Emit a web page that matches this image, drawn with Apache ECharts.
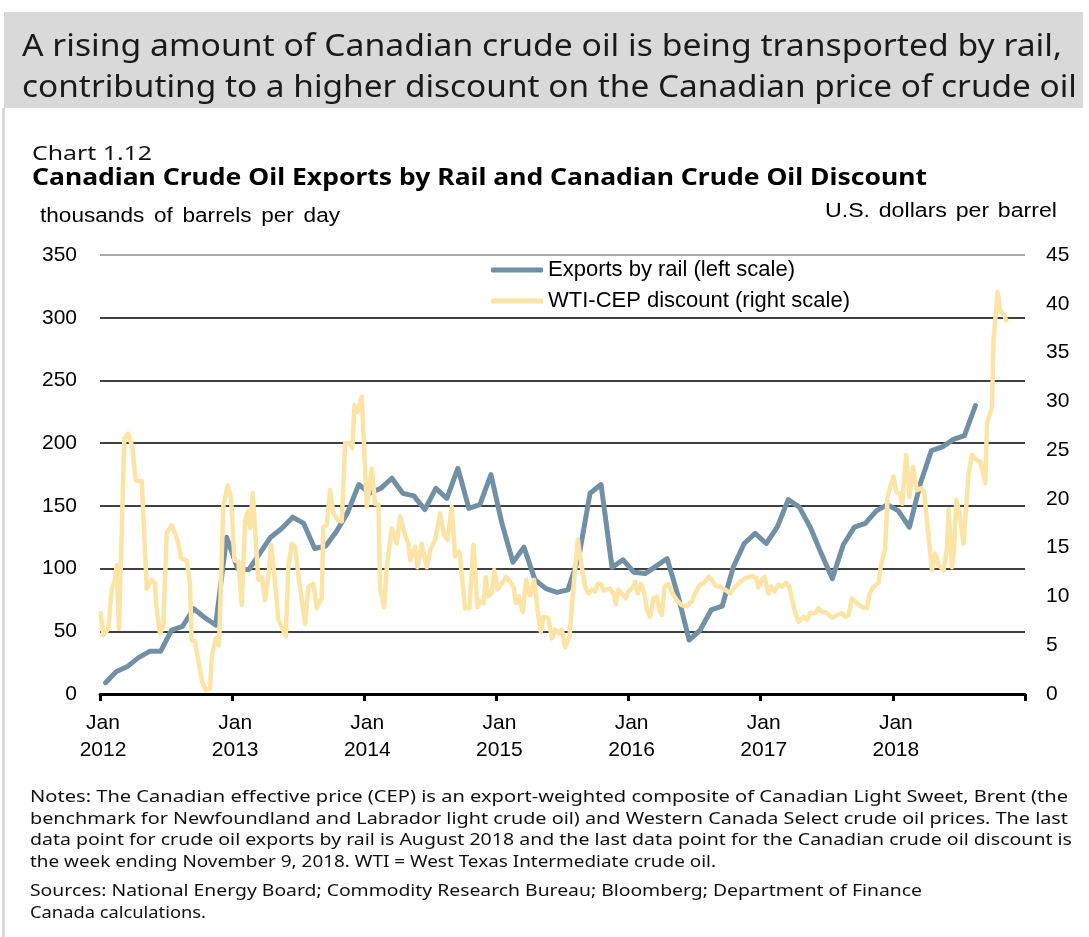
<!DOCTYPE html>
<html>
<head>
<meta charset="utf-8">
<script src="https://cdn.jsdelivr.net/npm/echarts@6/dist/echarts.min.js"></script>
<style>
  html, body { margin: 0; padding: 0; background: #fff; }
  #page { position: relative; width: 1089px; height: 937px; overflow: hidden; }
  #header { position: absolute; left: 4px; top: 12px; width: 1079px; height: 96px; background: #d9d9d9; }
  #leftBorder { position: absolute; left: 2px; top: 108px; width: 3px; height: 829px; background: #d9d9d9; }
  #chart { position: absolute; left: 0; top: 0; width: 1089px; height: 937px; z-index: 1; }
  .txt { position: absolute; white-space: nowrap; line-height: 1; transform-origin: 0 50%; z-index: 2; }
</style>
</head>
<body>
<div id="page">
  <div id="header"></div>
  <div id="leftBorder"></div>
  <div id="chart"></div>
</div>
<script>
  // Canadian crude oil exports by rail, thousands of barrels per day, monthly Jan 2012 - Aug 2018
  const exportsStart = 2012
  const exportsByRail = [
    9, 18, 22, 29, 34, 34, 51, 54, 68, 61, 55, 125,
    100, 99, 112, 125, 132, 141, 136, 116, 118, 130, 145, 167,
    160, 164, 172, 160, 158, 147, 164, 156, 180, 148, 151, 175,
    136, 105, 117, 91, 84, 81, 83, 110, 160, 167, 101, 107,
    97, 96, 102, 108, 78, 43, 51, 67, 70, 101, 120, 128,
    120, 133, 155, 149, 133, 112, 92, 119, 133, 136, 146, 151,
    146, 133, 168, 194, 197, 203, 206, 230
  ]

  // WTI-CEP discount, US$ per barrel, weekly (turning points, position in decimal years)
  const discountYear = [
    2012.005, 2012.025, 2012.063, 2012.089, 2012.114, 2012.126, 2012.144, 2012.184, 2012.214, 2012.245,
    2012.270, 2012.316, 2012.354, 2012.391, 2012.416, 2012.429, 2012.454, 2012.479, 2012.505, 2012.543,
    2012.568, 2012.593, 2012.613, 2012.656, 2012.681, 2012.694, 2012.719, 2012.770, 2012.800, 2012.833,
    2012.846, 2012.876, 2012.901, 2012.933, 2012.967, 2012.992, 2013.017, 2013.047, 2013.073, 2013.098,
    2013.118, 2013.136, 2013.156, 2013.198, 2013.224, 2013.249, 2013.274, 2013.294, 2013.312, 2013.350,
    2013.406, 2013.425, 2013.451, 2013.476, 2013.506, 2013.531, 2013.552, 2013.577, 2013.615, 2013.640,
    2013.678, 2013.690, 2013.716, 2013.741, 2013.766, 2013.804, 2013.830, 2013.855, 2013.892, 2013.910,
    2013.925, 2013.948, 2013.981, 2014.019, 2014.057, 2014.082, 2014.107, 2014.120, 2014.150, 2014.170,
    2014.208, 2014.246, 2014.271, 2014.309, 2014.334, 2014.347, 2014.385, 2014.402, 2014.435, 2014.473,
    2014.503, 2014.536, 2014.574, 2014.604, 2014.629, 2014.662, 2014.687, 2014.720, 2014.763, 2014.796,
    2014.826, 2014.856, 2014.877, 2014.902, 2014.920, 2014.939, 2014.965, 2014.983, 2015.008, 2015.041,
    2015.073, 2015.104, 2015.129, 2015.147, 2015.167, 2015.200, 2015.225, 2015.255, 2015.285, 2015.318,
    2015.336, 2015.356, 2015.394, 2015.419, 2015.444, 2015.477, 2015.495, 2015.520, 2015.553, 2015.583,
    2015.616, 2015.646, 2015.671, 2015.696, 2015.722, 2015.747, 2015.767, 2015.793, 2015.810, 2015.836,
    2015.861, 2015.886, 2015.904, 2015.924, 2015.954, 2015.980, 2015.999, 2016.025, 2016.050, 2016.070,
    2016.095, 2016.120, 2016.139, 2016.164, 2016.189, 2016.214, 2016.232, 2016.252, 2016.272, 2016.302,
    2016.332, 2016.366, 2016.403, 2016.441, 2016.479, 2016.509, 2016.542, 2016.567, 2016.605, 2016.631,
    2016.656, 2016.693, 2016.731, 2016.769, 2016.807, 2016.845, 2016.883, 2016.913, 2016.938, 2016.964,
    2016.983, 2017.009, 2017.029, 2017.059, 2017.079, 2017.104, 2017.135, 2017.160, 2017.191, 2017.216,
    2017.236, 2017.261, 2017.286, 2017.324, 2017.350, 2017.375, 2017.413, 2017.438, 2017.463, 2017.501,
    2017.539, 2017.577, 2017.615, 2017.640, 2017.665, 2017.690, 2017.728, 2017.766, 2017.804, 2017.824,
    2017.854, 2017.892, 2017.910, 2017.942, 2017.960, 2017.980, 2018.005, 2018.026, 2018.051, 2018.071,
    2018.101, 2018.126, 2018.152, 2018.181, 2018.219, 2018.238, 2018.270, 2018.296, 2018.321, 2018.346,
    2018.384, 2018.409, 2018.422, 2018.447, 2018.465, 2018.480, 2018.505, 2018.535, 2018.573, 2018.599,
    2018.624, 2018.662, 2018.700, 2018.712, 2018.750, 2018.762, 2018.793, 2018.813, 2018.843, 2018.858
  ]
  const discountValue = [
    8.3, 6.0, 6.7, 10.7, 11.7, 13.2, 6.7, 26.2, 26.7, 25.3,
    21.9, 21.8, 10.8, 11.7, 11.3, 8.6, 6.2, 6.9, 16.5, 17.3,
    16.5, 15.4, 13.9, 13.7, 11.3, 5.5, 5.4, 1.4, 0.4, 0.6,
    3.8, 5.7, 5.0, 19.2, 21.4, 20.1, 13.7, 13.6, 9.1, 17.8,
    18.7, 17.0, 20.6, 11.7, 12.0, 9.6, 12.0, 15.3, 13.2, 7.6,
    5.9, 13.0, 15.4, 15.1, 11.7, 9.3, 7.2, 11.0, 11.3, 8.8,
    9.8, 17.1, 17.3, 20.9, 18.5, 17.8, 17.7, 25.7, 25.7, 25.2,
    29.6, 28.9, 30.5, 19.2, 23.1, 19.5, 19.4, 10.8, 8.9, 12.9,
    17.0, 15.4, 18.2, 16.3, 15.4, 13.7, 15.1, 13.0, 15.4, 13.0,
    14.9, 15.8, 18.5, 16.3, 15.8, 19.2, 14.1, 14.6, 8.8, 8.8,
    15.3, 8.9, 9.5, 9.3, 12.0, 10.0, 10.3, 12.7, 10.7, 11.3,
    12.0, 11.5, 11.0, 9.3, 10.0, 8.4, 11.7, 10.1, 11.7, 7.9,
    6.4, 7.9, 7.8, 5.7, 6.6, 6.2, 6.6, 4.8, 5.9, 11.0,
    15.8, 13.0, 11.0, 10.3, 10.7, 10.5, 11.3, 11.3, 10.6, 10.7,
    10.8, 10.3, 9.2, 10.7, 10.2, 9.8, 10.5, 10.8, 11.5, 10.3,
    11.3, 10.3, 8.6, 7.9, 9.8, 10.0, 8.6, 8.1, 11.0, 11.3,
    10.3, 9.6, 9.1, 9.0, 9.5, 10.5, 11.2, 11.3, 12.0, 11.7,
    11.1, 11.0, 10.7, 10.3, 11.0, 11.5, 11.9, 12.0, 12.1, 11.9,
    10.9, 11.7, 12.0, 10.3, 11.0, 10.5, 11.2, 11.0, 11.4, 11.0,
    9.8, 8.3, 7.4, 7.9, 7.6, 8.3, 8.3, 8.8, 8.4, 8.3,
    7.8, 8.1, 8.3, 7.9, 8.1, 9.8, 9.3, 8.9, 8.8, 10.3,
    11.0, 11.4, 13.2, 14.9, 20.2, 21.2, 22.3, 20.7, 20.6, 19.5,
    24.5, 20.2, 23.3, 20.9, 21.1, 20.6, 16.1, 12.7, 14.4, 13.2,
    12.7, 14.8, 18.9, 13.0, 15.1, 19.9, 18.5, 15.4, 22.6, 24.5,
    24.1, 23.8, 21.6, 27.7, 29.4, 36.3, 41.2, 39.3, 38.8, 38.3
  ]

  const yearTicks = [2012, 2013, 2014, 2015, 2016, 2017, 2018]

  const headerLines = [
    'A rising amount of Canadian crude oil is being transported by rail,',
    'contributing to a higher discount on the Canadian price of crude oil'
  ]
  const noteLines = [
    'Notes: The Canadian effective price (CEP) is an export-weighted composite of Canadian Light Sweet, Brent (the',
    'benchmark for Newfoundland and Labrador light crude oil) and Western Canada Select crude oil prices. The last',
    'data point for crude oil exports by rail is August 2018 and the last data point for the Canadian crude oil discount is',
    'the week ending November 9, 2018. WTI = West Texas Intermediate crude oil.',
    'Sources: National Energy Board; Commodity Research Bureau; Bloomberg; Department of Finance',
    'Canada calculations.'
  ]

  const gothic = '"Noto Sans", "Open Sans", sans-serif'
  const arial = '"Liberation Sans", Arial, sans-serif'
  const measure = document.createElement('canvas').getContext('2d')
  const page = document.getElementById('page')

  // each line squeezed/stretched horizontally to the width it has in the picture
  function addLines (lines, left, tops, widths, size, family, weight, color, wordSpacing) {
    const ws = wordSpacing || 0
    measure.font = weight + ' ' + size + 'px ' + family
    lines.forEach((text, i) => {
      const natural = measure.measureText(text).width + ws * (text.split(' ').length - 1)
      const el = document.createElement('div')
      el.className = 'txt'
      el.textContent = text
      el.style.left = left + 'px'
      el.style.top = (tops[i] - size / 2) + 'px'
      el.style.fontFamily = family
      el.style.fontWeight = weight
      el.style.fontSize = size + 'px'
      el.style.wordSpacing = ws + 'px'
      el.style.color = color
      el.style.transform = 'scaleX(' + (widths[i] / natural).toFixed(4) + ')'
      page.appendChild(el)
    })
  }

  addLines(headerLines, 22, [45, 86], [1040, 1055], 30, gothic, 400, '#1a1a1a')
  addLines(['Chart 1.12'], 32, [153], [120], 20, gothic, 400, '#111')
  addLines(['Canadian Crude Oil Exports by Rail and Canadian Crude Oil Discount'], 32, [176], [895], 23, gothic, 700, '#000')
  addLines(['thousands of barrels per day'], 40, [215], [300], 20, arial, 400, '#000', 3)
  addLines(['U.S. dollars per barrel'], 825, [210], [232], 20, arial, 400, '#000', 2)
  addLines(noteLines, 30, [797, 819, 840, 862, 891, 913], [1038, 1038, 1042, 686, 892, 176], 15.5, gothic, 400, '#111')

  const chart = echarts.init(document.getElementById('chart'), null, { renderer: 'canvas' })

  const exportsData = exportsByRail.map((v, i) => [exportsStart + (i + 0.5) / 12, v])
  const discountData = discountYear.map((x, i) => [x, discountValue[i]])

  // last grid line (350) is grey, the rest black
  const gridColors = ['#000', '#000', '#000', '#000', '#000', '#000', '#000', '#8c8c8c']

  chart.setOption({
    animation: false,
    textStyle: { fontFamily: arial },
    grid: { left: 100, right: 64, top: 255, bottom: 243 },
    legend: {
      orient: 'vertical',
      left: 491,
      top: 259,
      icon: 'roundRect',
      itemWidth: 52,
      itemHeight: 5,
      itemGap: 9,
      padding: 0,
      textStyle: { fontSize: 22, lineHeight: 22, color: '#000', fontFamily: arial },
      data: ['Exports by rail (left scale)', 'WTI-CEP discount (right scale)']
    },
    xAxis: {
      type: 'value',
      min: 2012,
      max: 2019,
      interval: 1,
      axisLine: { lineStyle: { color: '#000', width: 3 } },
      axisTick: { show: true, length: 7, lineStyle: { color: '#000', width: 3 } },
      splitLine: { show: false },
      axisLabel: {
        margin: 16,
        fontSize: 21,
        lineHeight: 27,
        color: '#000',
        padding: [0, 0, 0, 6],
        formatter: v => (yearTicks.indexOf(v) >= 0 ? 'Jan\n' + v : '')
      }
    },
    yAxis: [{
      type: 'value',
      min: 0,
      max: 350,
      interval: 50,
      axisLine: { show: false },
      axisTick: { show: false },
      axisLabel: { margin: 23, fontSize: 21, color: '#000' },
      splitLine: { show: true, lineStyle: { color: gridColors, width: 1.6 } }
    }, {
      type: 'value',
      min: 0,
      max: 45,
      interval: 5,
      position: 'right',
      axisLine: { show: false },
      axisTick: { show: false },
      axisLabel: { margin: 21, fontSize: 21, color: '#000' },
      splitLine: { show: false }
    }],
    series: [{
      name: 'Exports by rail (left scale)',
      type: 'line',
      yAxisIndex: 0,
      symbol: 'none',
      data: exportsData,
      itemStyle: { color: '#7190a5' },
      lineStyle: { color: '#7190a5', width: 5, join: 'round', cap: 'round' },
      z: 2
    }, {
      name: 'WTI-CEP discount (right scale)',
      type: 'line',
      yAxisIndex: 1,
      symbol: 'none',
      data: discountData,
      itemStyle: { color: '#fbe4a6' },
      lineStyle: { color: '#fbe4a6', width: 4.5, join: 'round', cap: 'round' },
      z: 3
    }]
  })
</script>
</body>
</html>
